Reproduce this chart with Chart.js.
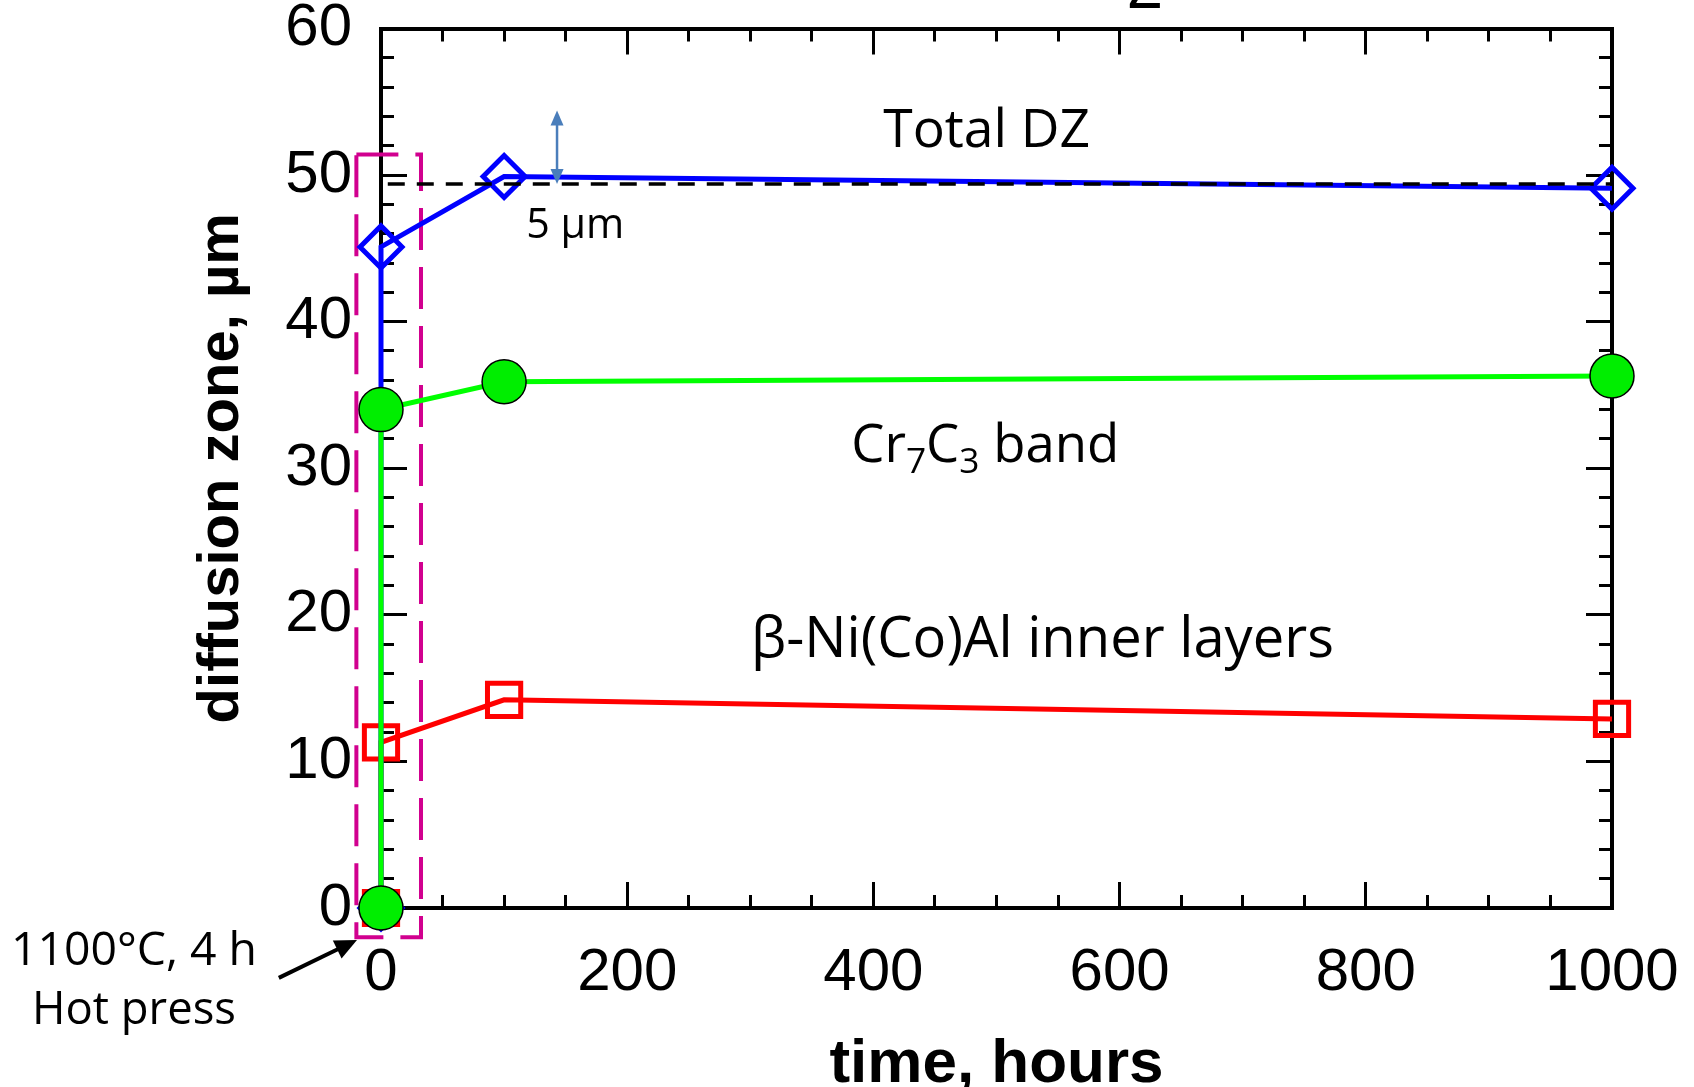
<!DOCTYPE html>
<html>
<head>
<meta charset="utf-8">
<script src="https://cdn.jsdelivr.net/npm/chart.js@4.4.1/dist/chart.umd.min.js"></script>
<style>
  html, body { margin: 0; padding: 0; background: #fff; overflow: hidden; }
  canvas { display: block; }
</style>
</head>
<body>
<canvas id="chart" width="1694" height="1087"></canvas>
<script>
// Diffusion-zone thickness versus exposure time (after a 1100 °C / 4 h hot press)
const hours          = [0, 0, 100, 1000];
const totalDZ        = [0, 45.1, 49.9, 49.1];
const cr7c3Band      = [0, 34.0, 35.9, 36.3];
const betaNiAlLayers = [0, 11.3, 14.2, 12.9];

const xRange = [0, 1000];
const yRange = [0, 60];
const xMajorStep = 200, xMinorStep = 50;
const yMajorStep = 10,  yMinorStep = 2;

// dashed reference level of the total zone and the 5 µm scale bar above it
const refLevel = 49.4;
const refSpan = [5.5, 1000];
const scaleBarLength = 5;
const scaleBarHour = 143;

// hot-press window around t = 0 (hours, µm)
const hotPressWindow = { x0: -20, x1: 32.5, y0: -2.0, y1: 51.4 };

const AXIS_FONT = '"Liberation Sans", Arial, sans-serif';
const NOTE_FONT = '"Open Sans", "Noto Sans", sans-serif';

const toPoints = vals => hours.map((h, i) => ({ x: h, y: vals[i] }));

// text notes: [text, subscript?] parts, anchor (hours, µm) = left end of baseline, width in px
const notes = [
  { parts: [['Total DZ']], x: 408, y: 51.9, width: 207 },
  { parts: [['Cr'], ['7', true], ['C'], ['3', true], [' band']], x: 382, y: 30.4, width: 268 },
  { parts: [['\u03B2-Ni(Co)Al inner layers']], x: 300.6, y: 17.1, width: 583 },
  { parts: [['5 \u00B5m']], x: 118, y: 45.7, width: 98 },
  { parts: [['1100\u00B0C, 4 h']], x: -300.6, y: -3.9, width: 246 },
  { parts: [['Hot press']], x: -283.5, y: -7.9, width: 204 }
];
const hotPressArrow = { from: [-83, -4.77], to: [-19.5, -2.18] };

function drawNote(ctx, note, X, Y) {
  const base = 50;
  const widthAt = s => note.parts.reduce((w, [t, sub]) => {
    ctx.font = `${sub ? s * 0.67 : s}px ${NOTE_FONT}`;
    return w + ctx.measureText(t).width;
  }, 0);
  const s = base * note.width / widthAt(base);
  let cx = X.getPixelForValue(note.x);
  const y = Y.getPixelForValue(note.y);
  for (const [t, sub] of note.parts) {
    ctx.font = `${sub ? s * 0.67 : s}px ${NOTE_FONT}`;
    ctx.fillText(t, cx, sub ? y + s * 0.2 : y);
    cx += ctx.measureText(t).width;
  }
}

function arrowHead(ctx, x1, y1, x2, y2, len, half) {
  const a = Math.atan2(y2 - y1, x2 - x1);
  const bx = x2 - len * Math.cos(a), by = y2 - len * Math.sin(a);
  ctx.beginPath();
  ctx.moveTo(x2, y2);
  ctx.lineTo(bx + half * Math.sin(a), by - half * Math.cos(a));
  ctx.lineTo(bx - half * Math.sin(a), by + half * Math.cos(a));
  ctx.closePath();
  ctx.fill();
}

const overlay = {
  id: 'overlay',
  beforeDatasetsDraw(chart) {
    const { ctx } = chart;
    const X = chart.scales.x, Y = chart.scales.y;
    const l = X.getPixelForValue(hotPressWindow.x0), r = X.getPixelForValue(hotPressWindow.x1);
    const t = Y.getPixelForValue(hotPressWindow.y1), b = Y.getPixelForValue(hotPressWindow.y0);
    ctx.save();
    ctx.strokeStyle = '#d1008f';
    ctx.lineWidth = 4;
    ctx.setLineDash([42, 17]);
    ctx.strokeRect(l, t, r - l, b - t);
    ctx.restore();
  },
  afterDatasetsDraw(chart) {
    const { ctx } = chart;
    const X = chart.scales.x, Y = chart.scales.y;
    ctx.save();

    // dashed reference level
    ctx.strokeStyle = '#000';
    ctx.lineWidth = 3.5;
    ctx.setLineDash([17, 12]);
    ctx.beginPath();
    ctx.moveTo(X.getPixelForValue(refSpan[0]), Y.getPixelForValue(refLevel));
    ctx.lineTo(X.getPixelForValue(refSpan[1]), Y.getPixelForValue(refLevel));
    ctx.stroke();
    ctx.setLineDash([]);

    // double-headed 5 µm scale bar
    const bx = X.getPixelForValue(scaleBarHour);
    const by0 = Y.getPixelForValue(refLevel), by1 = Y.getPixelForValue(refLevel + scaleBarLength);
    ctx.strokeStyle = '#4a7ebb';
    ctx.fillStyle = '#4a7ebb';
    ctx.lineWidth = 2.5;
    ctx.beginPath();
    ctx.moveTo(bx, by1 + 12);
    ctx.lineTo(bx, by0 - 12);
    ctx.stroke();
    arrowHead(ctx, bx, by0, bx, by1, 15, 6.5);
    arrowHead(ctx, bx, by1, bx, by0, 15, 6.5);

    // arrow pointing at the hot-press window
    const ax0 = X.getPixelForValue(hotPressArrow.from[0]), ay0 = Y.getPixelForValue(hotPressArrow.from[1]);
    const ax1 = X.getPixelForValue(hotPressArrow.to[0]), ay1 = Y.getPixelForValue(hotPressArrow.to[1]);
    const ang = Math.atan2(ay1 - ay0, ax1 - ax0);
    ctx.strokeStyle = '#000';
    ctx.fillStyle = '#000';
    ctx.lineWidth = 4;
    ctx.beginPath();
    ctx.moveTo(ax0, ay0);
    ctx.lineTo(ax1 - 18 * Math.cos(ang), ay1 - 18 * Math.sin(ang));
    ctx.stroke();
    arrowHead(ctx, ax0, ay0, ax1, ay1, 22, 10);

    // text notes
    ctx.fillStyle = '#000';
    ctx.textAlign = 'left';
    ctx.textBaseline = 'alphabetic';
    notes.forEach(n => drawNote(ctx, n, X, Y));

    // digit of the heading cut by the top edge
    ctx.font = `66px ${AXIS_FONT}`;
    ctx.textAlign = 'center';
    ctx.fillText('2', X.getPixelForValue(620.6), Y.getPixelForValue(61.39));

    ctx.restore();
  }
};

function flat(scale) { scale.paddingLeft = scale.paddingRight = scale.paddingTop = scale.paddingBottom = 0; }

function tickAxis(position, range, step, len, border, weight) {
  const horiz = position === 'top' || position === 'bottom';
  return {
    type: 'linear', position, min: range[0], max: range[1], weight,
    ticks: { stepSize: step, display: false },
    grid: { drawOnChartArea: false, drawTicks: true, tickLength: -len, tickWidth: 3, tickColor: '#000' },
    border: { display: border, width: 4, color: '#000' },
    afterFit(s) { if (horiz) s.height = 0; else s.width = 0; flat(s); }
  };
}

function build() {
  new Chart(document.getElementById('chart'), {
    type: 'line',
    data: {
      datasets: [
        {
          label: 'Cr7C3 band', data: toPoints(cr7c3Band),
          borderColor: '#00ff00', borderWidth: 5, tension: 0, clip: false,
          pointStyle: 'circle', pointRadius: 22, pointBorderWidth: 1.5,
          pointBackgroundColor: '#00ee00', pointBorderColor: '#000'
        },
        {
          label: 'Total DZ', data: toPoints(totalDZ),
          borderColor: '#0000ff', borderWidth: 5, tension: 0, clip: false,
          pointStyle: 'rectRot', pointRadius: 21, pointBorderWidth: 5,
          pointBackgroundColor: 'rgba(0,0,0,0)', pointBorderColor: '#0000ff'
        },
        {
          label: '\u03B2-Ni(Co)Al inner layers', data: toPoints(betaNiAlLayers),
          borderColor: '#ff0000', borderWidth: 5, tension: 0, clip: false,
          pointStyle: 'rect', pointRadius: 23.5, pointBorderWidth: 5,
          pointBackgroundColor: 'rgba(0,0,0,0)', pointBorderColor: '#ff0000'
        }
      ]
    },
    options: {
      responsive: false,
      animation: false,
      devicePixelRatio: 1,
      layout: { padding: { top: 28, right: 82, left: 0, bottom: 0 } },
      plugins: { legend: { display: false }, tooltip: { enabled: false } },
      scales: {
        x: {
          type: 'linear', position: 'bottom', min: xRange[0], max: xRange[1], weight: 1,
          ticks: {
            stepSize: xMajorStep, color: '#000', padding: 61, maxRotation: 0, autoSkip: false,
            font: { family: AXIS_FONT, size: 60, lineHeight: 1 },
            callback: v => String(v)
          },
          grid: { drawOnChartArea: false, drawTicks: true, tickLength: -26, tickWidth: 3, tickColor: '#000' },
          border: { display: true, width: 4, color: '#000' },
          title: {
            display: true, text: 'time, hours', color: '#000',
            font: { family: AXIS_FONT, size: 62, weight: 'bold', lineHeight: 0.6 },
            padding: { top: 0, bottom: 3 }
          },
          afterFit(s) { s.height = 179; flat(s); }
        },
        xMinor: tickAxis('bottom', xRange, xMinorStep, 13, false, 0),
        xTop: tickAxis('top', xRange, xMajorStep, 26, true, 1),
        xTopMinor: tickAxis('top', xRange, xMinorStep, 13, false, 0),
        y: {
          type: 'linear', position: 'left', min: yRange[0], max: yRange[1], weight: 1,
          ticks: {
            stepSize: yMajorStep, color: '#000', padding: 55,
            font: { family: AXIS_FONT, size: 60, lineHeight: 1 },
            callback: v => String(v)
          },
          grid: { drawOnChartArea: false, drawTicks: true, tickLength: -26, tickWidth: 3, tickColor: '#000' },
          border: { display: true, width: 4, color: '#000' },
          title: {
            display: true, text: 'diffusion zone, \u00B5m', color: '#000',
            font: { family: AXIS_FONT, size: 58, weight: 'bold', lineHeight: 1 },
            padding: { top: 193, bottom: 0 }
          },
          afterFit(s) { s.width = 381; flat(s); }
        },
        yMinor: tickAxis('left', yRange, yMinorStep, 13, false, 0),
        yRight: tickAxis('right', yRange, yMajorStep, 26, true, 1),
        yRightMinor: tickAxis('right', yRange, yMinorStep, 13, false, 0)
      }
    },
    plugins: [overlay]
  });
}

const fontLoads = [
  `60px ${AXIS_FONT}`, `bold 60px ${AXIS_FONT}`, `50px ${NOTE_FONT}`
].map(f => document.fonts.load(f).catch(() => null));
Promise.all(fontLoads).then(build, build);
</script>
</body>
</html>
